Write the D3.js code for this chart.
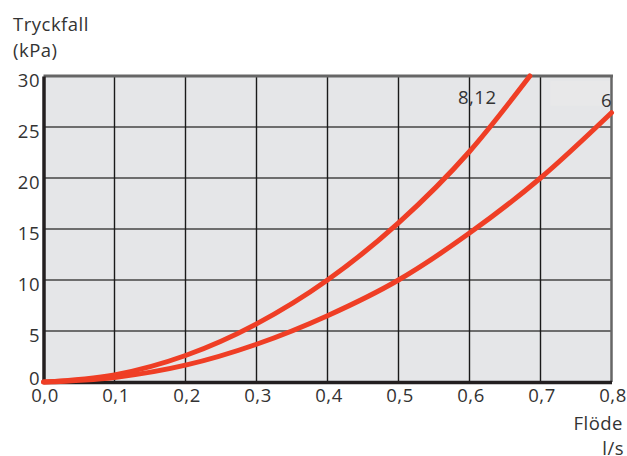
<!DOCTYPE html>
<html><head><meta charset="utf-8">
<script src="https://cdn.jsdelivr.net/npm/d3@7"></script>
<style>body{margin:0;background:#fff}svg text{font-family:"Open Sans",sans-serif;fill:#333;letter-spacing:0.5px}</style>
</head><body><svg id="c" width="627" height="456"></svg>
<script>
const xTicks = [0,0.1,0.2,0.3,0.4,0.5,0.6,0.7,0.8];
const yTicks = [0,5,10,15,20,25,30];
const seriesNames = ["8,12","6"];
const flowA = [0,0.1,0.2,0.3,0.4,0.5,0.6,0.685];
const dropA = [0,0.7,2.6,5.7,10,15.6,22.6,30];
const flowB = [0,0.1,0.2,0.3,0.4,0.5,0.6,0.7,0.8];
const dropB = [0,0.45,1.65,3.7,6.5,10,14.6,20,26.4];

const FS = 18.5;
const svg = d3.select("#c");
const x = d3.scaleLinear().domain([0,0.8]).range([43.5,611.5]);
const y = d3.scaleLinear().domain([0,30]).range([382,76]);
const fmt = d => d3.format(".1f")(d).replace(".",",");

svg.append("rect").attr("x",x(0)).attr("y",y(30)).attr("width",x(0.8)-x(0)).attr("height",y(0)-y(30)).attr("fill","#e5e6e8");
svg.append("rect").attr("x",x(0.714)).attr("y",y(29.5)).attr("width",x(0.8)-x(0.714)).attr("height",y(27.1)-y(29.5)).attr("fill","#e8e8e9");

// grid
svg.append("g").selectAll("line").data(yTicks.slice(1,-1)).join("line")
  .attr("x1",x(0)).attr("x2",x(0.8)).attr("y1",d=>y(d)).attr("y2",d=>y(d))
  .attr("stroke","#444").attr("stroke-width",1.6);
svg.append("g").selectAll("line").data(xTicks.slice(1,-1)).join("line")
  .attr("y1",y(0)).attr("y2",y(30)).attr("x1",d=>x(d)).attr("x2",d=>x(d))
  .attr("stroke","#1a1a1a").attr("stroke-width",1.4);

// top & right border
svg.append("line").attr("x1",x(0)).attr("x2",x(0.8)+1.5).attr("y1",y(30)).attr("y2",y(30)).attr("stroke","#666").attr("stroke-width",3);
svg.append("line").attr("x1",x(0.8)).attr("x2",x(0.8)).attr("y1",y(30)).attr("y2",y(0)).attr("stroke","#666").attr("stroke-width",2.5);

// axes
const xa = svg.append("g").attr("transform",`translate(0,${y(0)})`).call(d3.axisBottom(x).tickValues(xTicks).tickFormat(fmt).tickSize(0).tickPadding(0));
const ya = svg.append("g").attr("transform",`translate(${x(0)},0)`).call(d3.axisLeft(y).tickValues(yTicks).tickSize(0).tickPadding(3.5));
[xa,ya].forEach(g=>{g.select(".domain").attr("stroke","#231f20").attr("stroke-width",3.5);
  g.selectAll("text").attr("font-size",FS).attr("font-family","Open Sans").attr("fill","#333");});
xa.selectAll("text").attr("dy",null).attr("y",20).attr("dx",1);
ya.selectAll("text").attr("dy",null).attr("y",d=>(d===0?2.5:10));

// curves
const line = d3.line().x(d=>x(d[0])).y(d=>y(d[1])).curve(d3.curveMonotoneX);
[[flowA,dropA],[flowB,dropB]].forEach(([f,v])=>{
  svg.append("path").datum(f.map((d,i)=>[d,v[i]])).attr("d",line)
    .attr("fill","none").attr("stroke","#ef3e25").attr("stroke-width",5).attr("stroke-linecap","round");
});

// labels
svg.append("text").attr("x",458).attr("y",104).attr("font-size",FS).text(seriesNames[0]);
svg.append("text").attr("x",601).attr("y",106.5).attr("font-size",FS).text(seriesNames[1]);
svg.append("text").attr("x",13).attr("y",31).attr("font-size",FS).text("Tryckfall");
svg.append("text").attr("x",13).attr("y",57).attr("font-size",FS).text("(kPa)");
svg.append("text").attr("x",623).attr("y",430).attr("font-size",FS).attr("text-anchor","end").text("Flöde");
svg.append("text").attr("x",624).attr("y",455).attr("font-size",FS).attr("text-anchor","end").text("l/s");
</script></body></html>
